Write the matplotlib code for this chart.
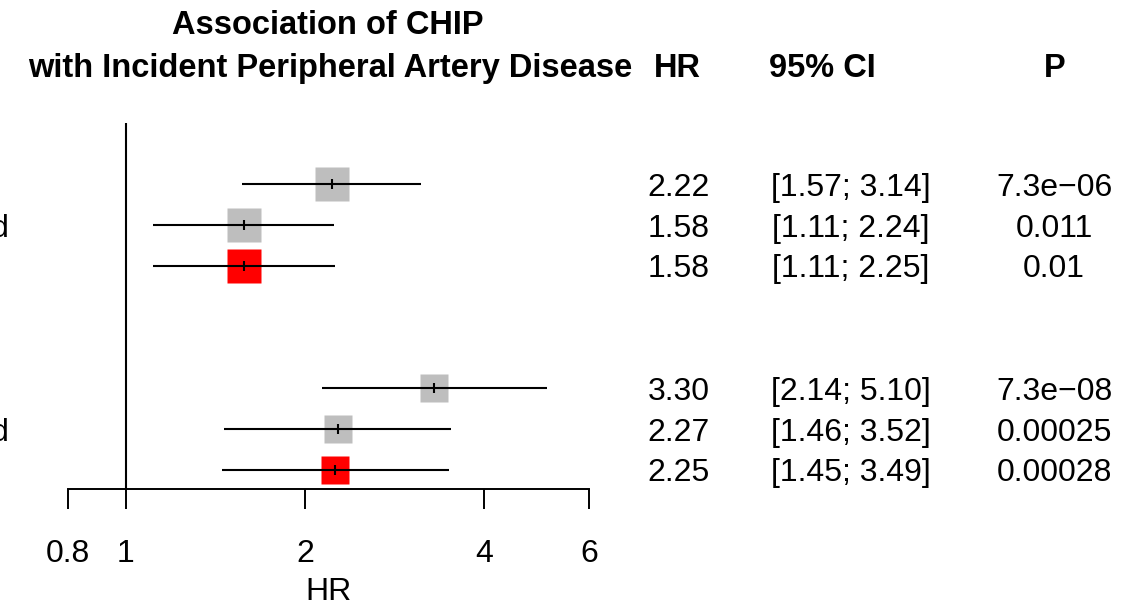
import matplotlib
matplotlib.use("Agg")
import matplotlib.pyplot as plt
from matplotlib.ticker import NullLocator
from matplotlib.transforms import blended_transform_factory

plt.rcParams['font.family'] = ['Liberation Sans', 'DejaVu Sans']

# hazard ratios, 95% CI and p-values per model
hr = [2.22, 1.58, 1.58, 3.30, 2.27, 2.25]
ci_lo = [1.57, 1.11, 1.11, 2.14, 1.46, 1.45]
ci_hi = [3.14, 2.24, 2.25, 5.10, 3.52, 3.49]
p_txt = ["7.3e\u221206", "0.011", "0.01", "7.3e\u221208", "0.00025", "0.00028"]
highlight = [False, False, True, False, False, True]
side_labels = ["", "adjusted", "", "", "adjusted", ""]
xticks = [0.8, 1, 2, 4, 6]

# layout (rows 3 and 4 are left blank between the two groups)
rows = [0, 1, 2, 5, 6, 7]
box_ms = [24.5, 24.5, 24.5, 20.2, 20.2, 20.2]
W, H = 1134, 611
FS = 23
FS_HEAD = 23.5

fig = plt.figure(figsize=(W / 100, H / 100), dpi=100)
ax = fig.add_axes([68 / W, (H - 489.3) / H, (588.9 - 68) / W, (489.3 - 123) / H])
ax.set_xscale('log')
ax.set_xlim(0.8, 6)
ax.set_ylim(7.475, -1.502)

for s in ['top', 'right', 'left']:
    ax.spines[s].set_visible(False)
ax.spines['bottom'].set_linewidth(1.4)
ax.set_yticks([])
ax.set_xticks(xticks)
ax.set_xticklabels([f"{t:g}" for t in xticks])
ax.xaxis.set_minor_locator(NullLocator())
ax.tick_params(axis='x', length=14.4, width=1.4, direction='out', labelsize=FS, pad=21.5)
ax.set_xlabel("HR", fontsize=FS, labelpad=6)

ax.axvline(1, color='black', lw=1.5, zorder=1)

for r, h, lo, hi, red in zip(rows, hr, ci_lo, ci_hi, highlight):
    ms = box_ms[rows.index(r)]
    ax.plot(h, r, marker='s', ms=ms, color='#FF0000' if red else '#BEBEBE',
            mec='none', zorder=2)
    ax.plot([lo, hi], [r, r], color='black', lw=1.5, solid_capstyle='butt', zorder=3)
    ax.plot(h, r, marker='|', ms=6.8, mew=1.5, color='black', zorder=4)

# text columns to the right of the panel
tr = blended_transform_factory(fig.transFigure, ax.transData)
for r, h, lo, hi, p, lab in zip(rows, hr, ci_lo, ci_hi, p_txt, side_labels):
    ax.text(710 / W, r, f"{h:.2f}", transform=tr, ha='right', va='center_baseline', fontsize=FS)
    ax.text(851 / W, r, f"[{lo:.2f}; {hi:.2f}]", transform=tr, ha='center',
            va='center_baseline', fontsize=FS)
    ax.text(1054 / W, r, p, transform=tr, ha='center', va='center_baseline', fontsize=FS)
    if lab:
        ax.text(10 / W, r, lab, transform=tr, ha='right', va='center_baseline', fontsize=FS)

# headers
fig.text(328 / W, 1 - 22 / H, "Association of CHIP", ha='center', va='center_baseline',
         fontsize=FS_HEAD, fontweight='bold')
fig.text(330 / W, 1 - 65 / H, "with Incident Peripheral Artery Disease", ha='center',
         va='center_baseline', fontsize=FS_HEAD, fontweight='bold')
fig.text(701 / W, 1 - 65 / H, "HR", ha='right', va='center_baseline', fontsize=FS_HEAD,
         fontweight='bold')
fig.text(822 / W, 1 - 65 / H, "95% CI", ha='center', va='center_baseline', fontsize=FS_HEAD,
         fontweight='bold')
fig.text(1055 / W, 1 - 65 / H, "P", ha='center', va='center_baseline', fontsize=FS_HEAD,
         fontweight='bold')

fig.savefig("out.png", dpi=100)
